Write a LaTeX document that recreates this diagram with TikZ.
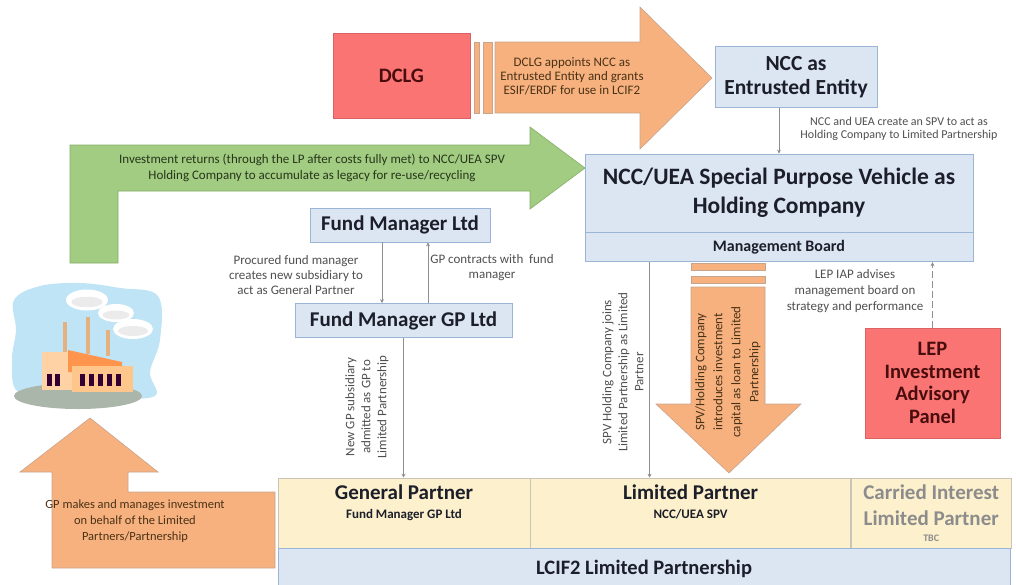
\documentclass[tikz,border=0pt]{standalone}
\usepackage{fontspec}
\setmainfont{Carlito}
\usetikzlibrary{positioning,arrows.meta,calc}
\definecolor{boxBlue}{HTML}{DCE6F2}
\definecolor{boxEdge}{HTML}{9AB5D6}
\definecolor{panelRed}{HTML}{FA7474}
\definecolor{panelEdge}{HTML}{DB6363}
\definecolor{panelInk}{HTML}{4A0D0D}
\definecolor{flowOr}{HTML}{F7B17F}
\definecolor{flowEdge}{HTML}{C7A48C}
\definecolor{flowInk}{HTML}{4A3216}
\definecolor{retGreen}{HTML}{A2CC82}
\definecolor{retEdge}{HTML}{84AD66}
\definecolor{retInk}{HTML}{26361A}
\definecolor{cellYel}{HTML}{FDF0CC}
\definecolor{cellEdge}{HTML}{C9C4B8}
\definecolor{titleInk}{HTML}{1C1F2A}
\definecolor{noteInk}{HTML}{4F4F4F}
\definecolor{connGray}{HTML}{8E8E8E}
\definecolor{skyBlue}{HTML}{BFE4F6}

\begin{document}
\begin{tikzpicture}[
  x=1pt, y=-1pt,
  >=Stealth,
  bx/.style={draw=boxEdge, fill=boxBlue, line width=0.8pt, align=center, inner sep=2pt,
    text=titleInk, font=\bfseries\fontsize{21}{24}\selectfont},
  panel/.style={draw=panelEdge, fill=panelRed, line width=0.8pt, align=center, inner sep=2pt,
    text=panelInk, font=\bfseries\fontsize{20.5}{22.5}\selectfont},
  cell/.style={draw=cellEdge, line width=0.6pt, inner sep=0pt},
  cellhead/.style={align=center, inner sep=1pt, text=titleInk, font=\bfseries\fontsize{21}{22}\selectfont},
  note/.style={align=center, inner sep=1pt, text=noteInk, font=\fontsize{13}{15}\selectfont},
  blockarrow/.style={fill=flowOr, draw=flowEdge, line width=0.6pt},
  conn/.style={-{Stealth[length=4pt,width=4pt]}, line width=1pt, draw=connGray},
]
\useasboundingbox (0,0) rectangle (1016,584);

% =========================== BLOCK ARROWS ===========================
% DCLG -> NCC, striped tail
\draw[blockarrow] (474,42) rectangle (479,113);
\draw[blockarrow] (483,42) rectangle (492,113);
\draw[blockarrow] (495,42) -- (640,42) -- (640,7) -- (712,78) -- (640,149) -- (640,113) -- (495,113) -- cycle;
\node[note, text=flowInk, font=\fontsize{13}{14}\selectfont] (appoint) at (572,76)
  {DCLG appoints NCC as\\ Entrusted Entity and grants\\ ESIF/ERDF for use in LCIF2};

% returns to the SPV, bent green arrow
\draw[fill=retGreen, draw=retEdge, line width=0.6pt]
  (70,263) -- (70,145) -- (530,145) -- (530,127) -- (585,168) -- (530,209) -- (530,191) -- (118,191) -- (118,263) -- cycle;
\node[note, text=retInk, font=\fontsize{13}{16}\selectfont] (returns) at (312,168)
  {Investment returns (through the LP after costs fully met) to NCC/UEA SPV\\ Holding Company to accumulate as legacy for re-use/recycling};

% SPV -> LP, striped down arrow
\draw[blockarrow] (691,263) rectangle (765,270);
\draw[blockarrow] (691,276) rectangle (765,283);
\draw[blockarrow] (691,287) -- (765,287) -- (765,404) -- (801,404) -- (729,473) -- (656,404) -- (691,404) -- cycle;
\node[note, text=flowInk, rotate=90, font=\fontsize{13}{18}\selectfont] (loan) at (728,372)
  {SPV/Holding Company\\ introduces investment\\ capital as loan to Limited\\ Partnership};

% GP -> investments, bent up arrow
\draw[blockarrow] (52,568) -- (52,472) -- (20,472) -- (90,418) -- (158,472) -- (128,472) -- (128,492) -- (275,492) -- (275,568) -- cycle;
\node[note, text=flowInk, font=\fontsize{12.5}{16}\selectfont] (invest) at (135,521)
  {GP makes and manages investment\\ on behalf of the Limited\\ Partners/Partnership};

% =========================== BOXES ===========================
\node[panel, minimum width=137pt, minimum height=85pt] (dclg) at (401.5,75.5) {DCLG};
\node[bx, minimum width=162pt, minimum height=61pt, font=\bfseries\fontsize{21.5}{24}\selectfont] (ncc)
  at (796,77) {NCC as\\ Entrusted Entity};
\node[bx, minimum width=388pt, minimum height=78pt, font=\bfseries\fontsize{23.5}{29}\selectfont] (spv)
  at (779,193) {NCC/UEA Special Purpose Vehicle as\\ Holding Company};
\node[bx, minimum width=388pt, minimum height=29pt, font=\bfseries\fontsize{16}{18}\selectfont,
  below=0pt of spv] (mgmt) {Management Board};
\node[bx, minimum width=180pt, minimum height=34pt] (fml) at (400,225) {Fund Manager Ltd};
\node[bx, minimum width=217pt, minimum height=34pt] (fmgp) at (403.5,320.5) {Fund Manager GP Ltd};
\node[panel, minimum width=135pt, minimum height=110pt] (lep)
  at (932.5,383) {LEP\\ Investment\\ Advisory\\ Panel};

% =========================== LCIF2 PARTNERSHIP TABLE ===========================
\node[cell, fill=cellYel, minimum width=252pt, minimum height=70pt] (gp) at (404,513) {};
\node[cell, fill=cellYel, minimum width=320pt, minimum height=70pt, right=0pt of gp] (lp) {};
\node[cell, fill=cellYel, minimum width=160pt, minimum height=70pt, right=0pt of lp] (ci) {};
\node[cell, fill=boxBlue, draw=boxEdge, minimum width=732pt, minimum height=52pt, anchor=north west]
  (lcif) at (gp.south west) {};

\node[cellhead, below=6pt of gp.north] (gphead)
  {General Partner\\[-3pt]{\fontsize{13}{14}\selectfont Fund Manager GP Ltd}};
\node[cellhead, below=6pt of lp.north] (lphead)
  {Limited Partner\\[-3pt]{\fontsize{13}{14}\selectfont NCC/UEA SPV}};
\node[cellhead, text=black!45, below=6pt of ci.north, font=\bfseries\fontsize{21}{26}\selectfont] (cihead)
  {Carried Interest\\ Limited Partner\\[-10pt]{\fontsize{10}{11}\selectfont TBC}};
\node[cellhead, font=\bfseries\fontsize{20.5}{22}\selectfont, below=11pt of lcif.north] (lcifhead)
  {LCIF2 Limited Partnership};

% =========================== CONNECTORS ===========================
\draw[conn] ([xshift=-17pt]ncc.south) -- ([xshift=-17pt]ncc.south |- spv.north);
\node[note, font=\fontsize{12}{13}\selectfont] (spvnote) at (899,129)
  {NCC and UEA create an SPV to act as\\ Holding Company to Limited Partnership};

\draw[conn] ([xshift=-18pt]fml.south) -- ([xshift=-18pt]fml.south |- fmgp.north);
\draw[conn] ([xshift=28pt]fml.south |- fmgp.north) -- ([xshift=28pt]fml.south);
\node[note] (procured) at (296,275)
  {Procured fund manager\\ creates new subsidiary to\\ act as General Partner};
\node[note] (contracts) at (492,268)
  {GP contracts with \ fund\\ manager};

\draw[conn] (fmgp.south) -- (fmgp.south |- gp.north);
\node[note, rotate=90, font=\fontsize{13}{16}\selectfont] (admitted) at (367,407)
  {New GP subsidiary\\ admitted as GP to\\ Limited Partnership};

\draw[conn] ([xshift=-41pt]lp.north |- mgmt.south) -- ([xshift=-41pt]lp.north);
\node[note, rotate=90, font=\fontsize{13}{16}\selectfont] (joins) at (623,372)
  {SPV Holding Company joins\\ Limited Partnership as Limited\\ Partner};

\draw[conn, dashed, dash pattern=on 7pt off 3pt] (lep.north) -- (lep.north |- mgmt.south);
\node[note, font=\fontsize{13}{16}\selectfont] (advises) at (855,291)
  {LEP IAP advises\\ management board on\\ strategy and performance};

% =========================== FACTORY ===========================
\fill[skyBlue] plot[smooth cycle, tension=0.6] coordinates
  {(14,300) (40,286) (80,283) (120,288) (158,296) (160,340) (150,372) (155,396) (110,398) (60,396) (18,392) (12,360) (16,330)};
\fill[black!30!green!10!gray!60] (78,396) ellipse [x radius=64pt, y radius=13pt];
\foreach \sx/\sy/\sr in {87/300/21, 116/313/18, 133/329/20}{
  \fill[white] (\sx,\sy) ellipse [x radius=\sr pt, y radius=0.5*\sr pt];
  \fill[black!8] ([yshift=-2pt]\sx,\sy) ellipse [x radius=0.75*\sr pt, y radius=0.25*\sr pt];}
\fill[orange!30!brown!60] (63,322) rectangle (67,354);
\fill[orange!30!brown!60] (86,317) rectangle (90,354);
\fill[orange!30!brown!60] (106,330) rectangle (110,356);
\fill[orange!35] (42,352) rectangle (72,390);
\fill[orange!80!red!70] (68,350) -- (122,362) -- (122,372) -- (68,372) -- cycle;
\fill[orange!45] (72,366) rectangle (133,392);
\foreach \wx in {47,55,80,89,98,107,116}{
  \fill[violet!40!black] (\wx,374) rectangle ++(5,12);}
\end{tikzpicture}
\end{document}
